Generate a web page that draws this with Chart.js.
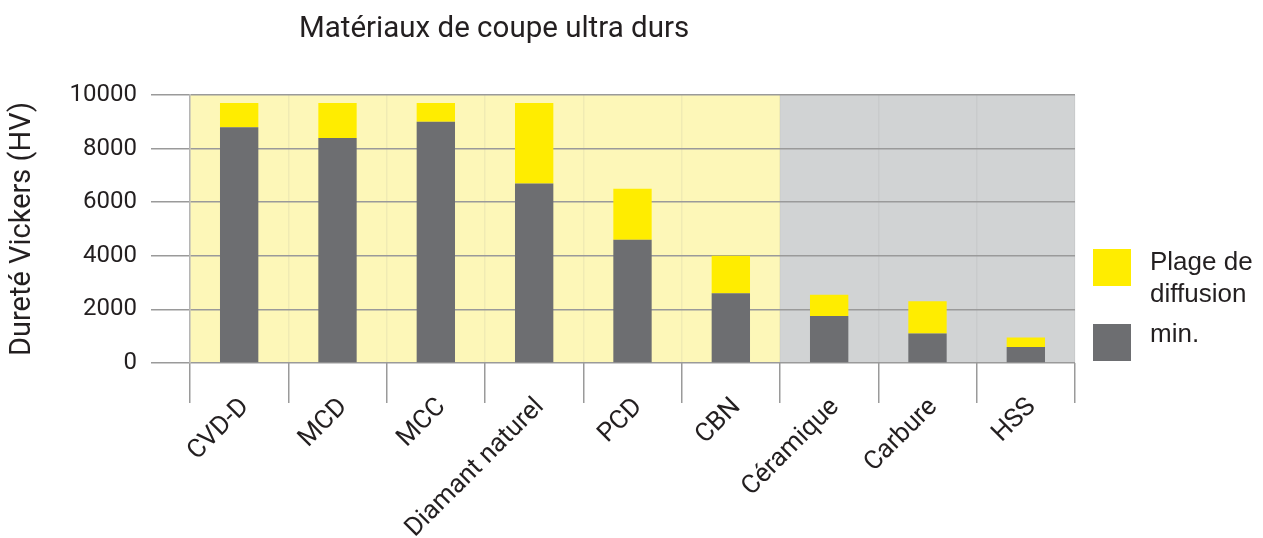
<!DOCTYPE html>
<html lang="fr">
<head>
<meta charset="utf-8">
<script src="https://cdn.jsdelivr.net/npm/chart.js@4.4.1/dist/chart.umd.min.js"></script>
<style>
  html, body { margin: 0; padding: 0; background: #fff; }
  #wrap { width: 1263px; height: 538px; }
</style>
</head>
<body>
<div id="wrap"><canvas id="chart" width="1263" height="538"></canvas></div>
<script>
// Données
const categories = ["CVD-D", "MCD", "MCC", "Diamant naturel", "PCD", "CBN", "Céramique", "Carbure", "HSS"];
const minValues = [8800, 8400, 9000, 6700, 4600, 2600, 1750, 1100, 600];
const maxValues = [9700, 9700, 9700, 9700, 6500, 4000, 2550, 2300, 950];
const yTicks = [0, 2000, 4000, 6000, 8000, 10000];
const ultraDurCount = 6; // les 6 premiers matériaux sur fond jaune

// la plage = max - min, empilée sur le min
const rangeValues = maxValues.map((v, i) => v - minValues[i]);

const JAUNE = "#FFED00";
const GRIS = "#6D6E71";
const TEXTE = "#231F20";

// Fonds jaune / gris, titre et légende dessinés à la main
const fondEtLegende = {
  id: "fondEtLegende",
  beforeDraw(chart) {
    const { ctx, chartArea: a, scales } = chart;
    const x = scales.x;
    const split = (x.getPixelForValue(ultraDurCount - 1) + x.getPixelForValue(ultraDurCount)) / 2;
    ctx.save();
    ctx.fillStyle = "#FDF7B8";
    ctx.fillRect(a.left, a.top, split - a.left, a.bottom - a.top);
    ctx.fillStyle = "#D1D3D4";
    ctx.fillRect(split, a.top, a.right - split, a.bottom - a.top);
    ctx.restore();
  },
  afterDraw(chart) {
    const { ctx, chartArea: a } = chart;
    ctx.save();
    // titre
    ctx.fillStyle = TEXTE;
    ctx.font = "29.5px Roboto";
    ctx.textAlign = "left";
    ctx.textBaseline = "alphabetic";
    ctx.fillText("Matériaux de coupe ultra durs", 299, 37);

    // légende
    const bx = a.right + 18;
    const tx = a.right + 75;
    ctx.fillStyle = chart.data.datasets[1].backgroundColor;
    ctx.fillRect(bx, 249, 38, 37);
    ctx.fillStyle = chart.data.datasets[0].backgroundColor;
    ctx.fillRect(bx, 324, 38, 37);
    ctx.fillStyle = TEXTE;
    ctx.font = "26px 'Liberation Sans'";
    ctx.fillText("Plage de", tx, 270);
    ctx.fillText("diffusion", tx, 302);
    ctx.fillText("min.", tx, 342);
    ctx.restore();
  }
};

const ctx = document.getElementById("chart").getContext("2d");
const chart = new Chart(ctx, {
  type: "bar",
  data: {
    labels: categories,
    datasets: [
      {
        label: "min.",
        data: minValues,
        backgroundColor: GRIS,
        barPercentage: 0.39,
        categoryPercentage: 1,
      },
      {
        label: "Plage de diffusion",
        data: rangeValues,
        backgroundColor: JAUNE,
        barPercentage: 0.39,
        categoryPercentage: 1,
      },
    ],
  },
  options: {
    responsive: false,
    animation: false,
    layout: { padding: { top: 95, right: 188, left: 0, bottom: 0 } },
    plugins: {
      legend: { display: false },
      tooltip: { enabled: false },
      title: { display: false },
    },
    scales: {
      x: {
        stacked: true,
        grid: {
          offset: true,
          color: "rgba(150,150,150,0.12)",
          tickColor: "#9A9A9A",
          tickLength: 40,
          lineWidth: 1.5,
        },
        border: { display: false },
        ticks: {
          color: TEXTE,
          font: { family: "Roboto", size: 26 },
          minRotation: 45,
          maxRotation: 45,
          padding: -11,
          labelOffset: 6,
        },
        afterFit(scale) { scale.height = 175; },
      },
      y: {
        stacked: true,
        min: 0,
        max: 10000,
        afterBuildTicks(scale) { scale.ticks = yTicks.map(v => ({ value: v })); },
        grid: {
          color: "#9A9A9A",
          tickLength: 39,
          lineWidth: 1.5,
        },
        border: { display: true, color: "#B5B5B5", width: 1.5 },
        ticks: {
          color: TEXTE,
          font: { family: "Roboto", size: 24 },
          padding: 14,
          callback: (v) => String(v),
        },
        title: {
          display: true,
          text: "Dureté Vickers (HV)",
          color: TEXTE,
          font: { family: "Roboto", size: 29, weight: "normal" },
          padding: { top: 5, bottom: 0 },
        },
        afterFit(scale) { scale.width = 190; },
      },
    },
  },
  plugins: [fondEtLegende],
});
</script>
</body>
</html>
